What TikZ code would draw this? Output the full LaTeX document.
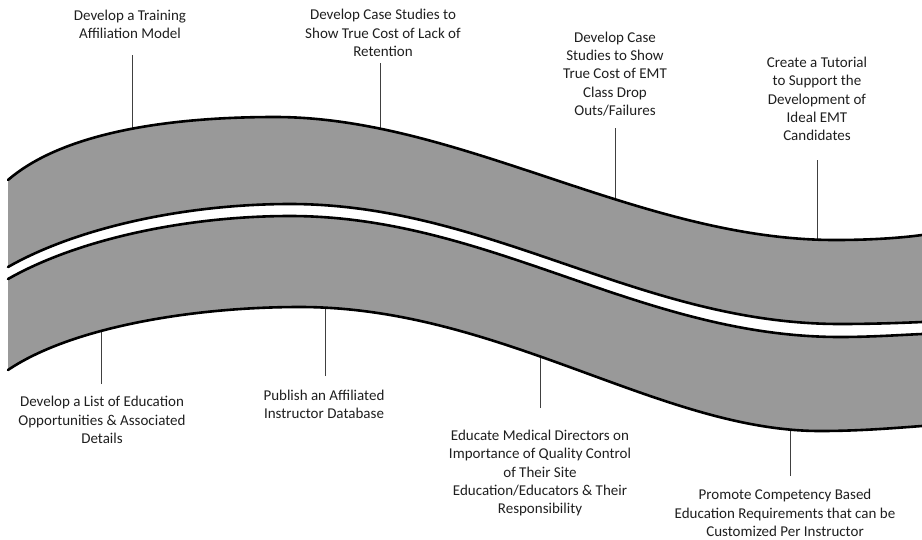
\documentclass[tikz,border=0pt]{standalone}
\usepackage{fontspec}
\setmainfont{Carlito}
\begin{document}
\begin{tikzpicture}[x=1pt,y=-1pt,
  bandfill/.style={fill=bandgray},
  edge/.style={draw=black,line width=2.6pt,line cap=round},
  conn/.style={draw=black!75,line width=1pt},
  lbl/.style={align=center,inner sep=0pt,text=black!88,font=\fontsize{15}{18.2}\selectfont}]
\definecolor{bandgray}{RGB}{153,153,153}
\useasboundingbox (0,0) rectangle (922,539);

% edge curves of the two bands
\def\edgeA{(8,180) .. controls (60,135) and (160,117) .. (275,117)
  .. controls (460,117) and (640,240) .. (835,240)
  .. controls (870,240) and (900,238) .. (922,235)}
\def\edgeB{(8,267) .. controls (80,226) and (190,204) .. (290,204)
  .. controls (490,204) and (640,324) .. (840,324)
  .. controls (870,324) and (900,323) .. (922,322)}
\def\edgeBrev{(922,322) .. controls (900,323) and (870,324) .. (840,324)
  .. controls (640,324) and (490,204) .. (290,204)
  .. controls (190,204) and (80,226) .. (8,267)}
\def\edgeC{(8,279) .. controls (80,238) and (190,216) .. (290,216)
  .. controls (490,216) and (640,337) .. (840,337)
  .. controls (870,337) and (900,335) .. (922,334)}
\def\edgeD{(8,370) .. controls (70,328) and (190,307) .. (300,307)
  .. controls (500,307) and (660,431) .. (820,431)
  .. controls (860,431) and (895,428) .. (922,426)}
\def\edgeDrev{(922,426) .. controls (895,428) and (860,431) .. (820,431)
  .. controls (660,431) and (500,307) .. (300,307)
  .. controls (190,307) and (70,328) .. (8,370)}

% milestone labels above the road
\node[lbl] (t1) at (130,24) {Develop a Training\\Affiliation Model};
\node[lbl] (t2) at (383,33) {Develop Case Studies to\\Show True Cost of Lack of\\Retention};
\node[lbl] (t3) at (615,74) {Develop Case\\Studies to Show\\True Cost of EMT\\Class Drop\\Outs/Failures};
\node[lbl] (t4) at (817,99) {Create a Tutorial\\to Support the\\Development of\\Ideal EMT\\Candidates};
% milestone labels below the road
\node[lbl] (t5) at (102,420) {Develop a List of Education\\Opportunities \& Associated\\Details};
\node[lbl] (t6) at (324,404) {Publish an Affiliated\\Instructor Database};
\node[lbl] (t7) at (540,473) {Educate Medical Directors on\\Importance of Quality Control\\of Their Site\\Education/Educators \& Their\\Responsibility};
\node[lbl] (t8) at (785,513) {Promote Competency Based\\Education Requirements that can be\\Customized Per Instructor};

% connector end points (the inner ends run under the band)
\coordinate (a1) at (132,55);  \coordinate (b1) at (132,140);
\coordinate (a2) at (380,63);  \coordinate (b2) at (380,140);
\coordinate (a3) at (615,128); \coordinate (b3) at (615,205);
\coordinate (a4) at (817,160); \coordinate (b4) at (817,252);
\coordinate (a5) at (101,384); \coordinate (b5) at (101,315);
\coordinate (a6) at (325,376); \coordinate (b6) at (325,295);
\coordinate (a7) at (540,408); \coordinate (b7) at (540,345);
\coordinate (a8) at (790,476); \coordinate (b8) at (790,418);

\draw[conn] (a1) -- (b1);
\draw[conn] (a2) -- (b2);
\draw[conn] (a3) -- (b3);
\draw[conn] (a4) -- (b4);
\draw[conn] (a5) -- (b5);
\draw[conn] (a6) -- (b6);
\draw[conn] (a7) -- (b7);
\draw[conn] (a8) -- (b8);

% upper and lower road bands
\fill[bandfill] \edgeA -- \edgeBrev -- cycle;
\fill[bandfill] \edgeC -- \edgeDrev -- cycle;

% black outlines of the bands
\draw[edge] \edgeA;
\draw[edge] \edgeB;
\draw[edge] \edgeC;
\draw[edge] \edgeD;
\end{tikzpicture}
\end{document}
